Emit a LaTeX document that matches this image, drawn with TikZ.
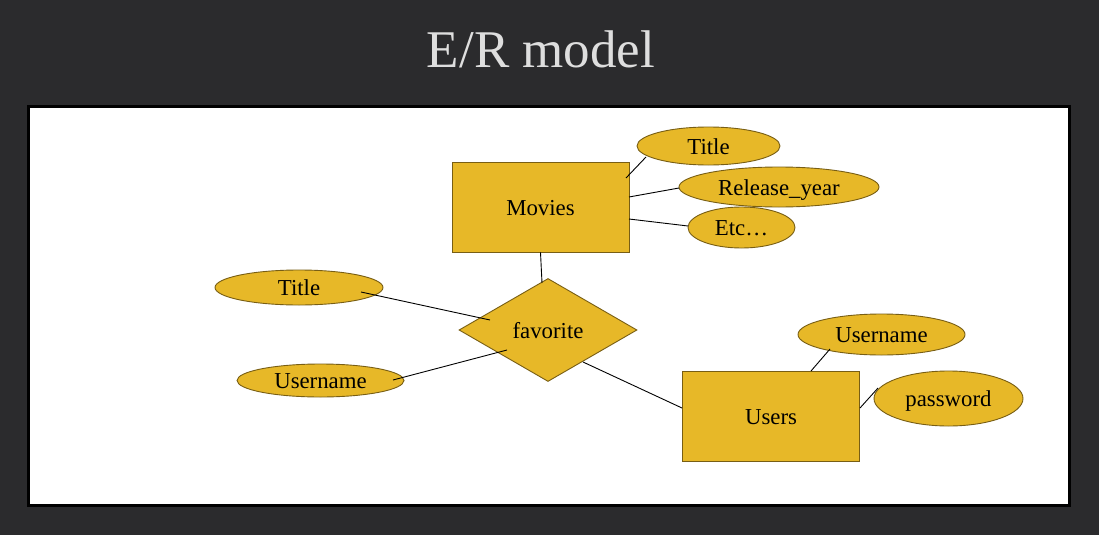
\documentclass[tikz,border=0pt]{standalone}
\usepackage{fontspec}
\setmainfont{Liberation Serif}
\usetikzlibrary{shapes.geometric,calc}
\definecolor{bgdark}{RGB}{43,43,45}
\definecolor{titlegray}{RGB}{222,222,222}
\definecolor{gold}{RGB}{231,184,40}
\definecolor{goldline}{RGB}{120,94,20}
\begin{document}
\begin{tikzpicture}[x=1pt,y=-1pt,
  shapebase/.style={draw=goldline,fill=gold,line width=0.9pt,inner sep=0pt,
    font=\fontsize{22.8}{25}\selectfont,text=black,text height=21pt,text depth=5pt},
  entity/.style={shapebase,rectangle,minimum width=177pt,minimum height=90pt},
  attr/.style={shapebase,ellipse,inner ysep=-2.5pt},
  rel/.style={shapebase,diamond,minimum width=178pt,minimum height=103pt},
  link/.style={draw=black,line width=0.9pt}]
\useasboundingbox (0,0) rectangle (1099,535);
\fill[bgdark] (0,0) rectangle (1099,535);
\node[anchor=base,text=titlegray,font=\fontsize{53}{58}\selectfont] (title) at (541,67) {E/R model};
\draw[line width=3pt,fill=white] (28.5,106.5) rectangle (1069.5,505.5);

\node[entity] (movies) at (540.5,207) {Movies};
\node[entity] (users) at (771,416) {Users};
\node[rel] (fav) at (548,330) {favorite};

\node[attr,minimum width=143pt,minimum height=38pt] (mtitle) at (708.5,146) {Title};
\node[attr,minimum width=200pt,minimum height=40pt] (myear) at (779,187) {Release\_year};
\node[attr,minimum width=107pt,minimum height=41pt] (metc) at (741.5,227.5) {Etc…};
\node[attr,minimum width=168pt,minimum height=35pt] (ftitle) at (299,287.5) {Title};
\node[attr,minimum width=167pt,minimum height=33pt] (fuser) at (320.5,380.5) {Username};
\node[attr,minimum width=167pt,minimum height=41pt] (uname) at (881.5,334.5) {Username};
\node[attr,minimum width=149pt,minimum height=55pt] (upass) at (948.5,398.5) {password};

\draw[link] ($(movies.center)+(85.5,-29)$) -- ($(mtitle.center)+(-62.5,11)$);
\draw[link] ($(movies.center)+(88.5,-10)$) -- ($(myear.center)+(-100,1)$);
\draw[link] ($(movies.center)+(88.5,12)$) -- ($(metc.center)+(-53.5,-1.5)$);
\draw[link] (movies.south) -- ($(fav.center)+(-6,-47)$);
\draw[link] ($(ftitle.center)+(62,4.5)$) -- ($(fav.center)+(-58,-10)$);
\draw[link] ($(fuser.center)+(72.5,-0.5)$) -- ($(fav.center)+(-41,20)$);
\draw[link] ($(fav.center)+(35,32)$) -- ($(users.center)+(-89,-8)$);
\draw[link] ($(users.center)+(40,-45)$) -- ($(uname.center)+(-51.5,14.5)$);
\draw[link] ($(users.center)+(89,-8)$) -- ($(upass.center)+(-70.5,-10.5)$);
\end{tikzpicture}
\end{document}
